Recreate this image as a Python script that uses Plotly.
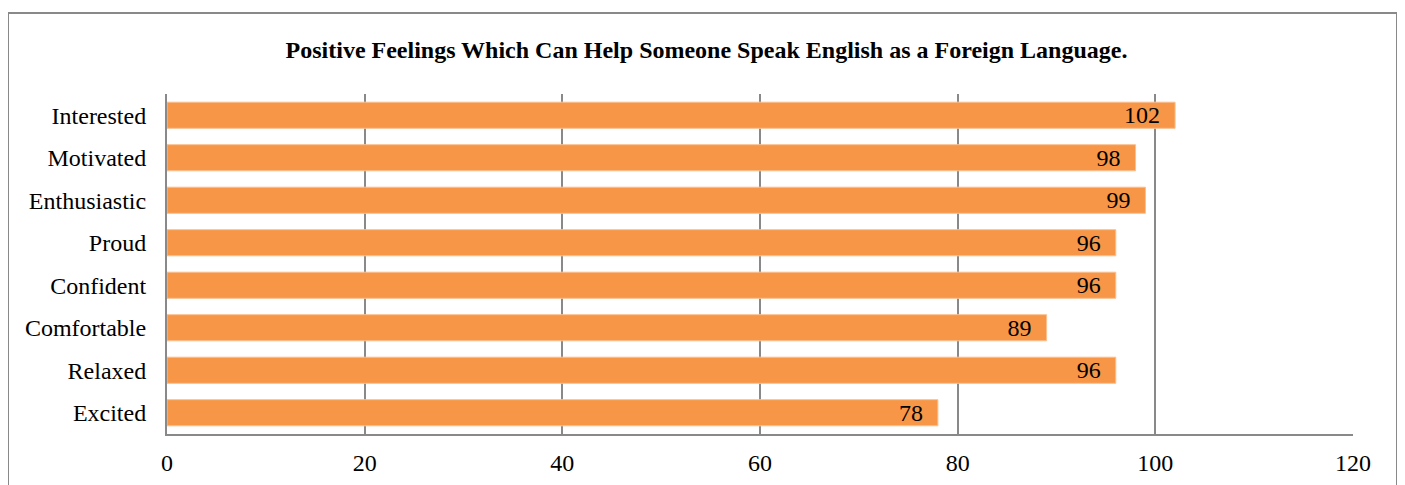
import plotly.graph_objects as go

categories = ["Interested", "Motivated", "Enthusiastic", "Proud", "Confident", "Comfortable", "Relaxed", "Excited"]
values = [102, 98, 99, 96, 96, 89, 96, 78]
x_ticks = [0, 20, 40, 60, 80, 100, 120]
title_text = "Positive Feelings Which Can Help Someone Speak English as a Foreign Language."

# page has an 8px body margin; figure sized to fill the rest of the window
OFF = 8
W, H = 1405 - OFF, 485 - OFF
L, R, T, B = 167 - OFF, 1405 - 1353, 94 - OFF, 485 - 434
pw, ph = W - L - R, H - T - B

def px(x):
    return (x - OFF - L) / pw

def py(y):
    return (H - B - (y - OFF)) / ph

FONT = "Liberation Serif"
GRID = "#898989"

fig = go.Figure()
fig.add_trace(go.Bar(
    y=categories, x=values, orientation="h",
    marker=dict(color="#F79646", line=dict(color="#FAC090", width=1)),
    text=[f"{v}\u00a0\u00a0" for v in values], textposition="inside", insidetextanchor="end",
    textangle=0, constraintext="none",
    textfont=dict(family=FONT, size=24, color="black"),
    cliponaxis=False,
))

fig.update_layout(
    width=W, height=H,
    margin=dict(l=L, r=R, t=T, b=B, autoexpand=False),
    paper_bgcolor="white", plot_bgcolor="white",
    showlegend=False,
    bargap=0.385,
    title=dict(text="<b>" + title_text + "</b>", x=0.5, xref="container", xanchor="center",
               y=1 - (50 - OFF) / H, yanchor="middle",
               font=dict(family=FONT, size=24, color="black")),
    xaxis=dict(range=[0, 120], tickvals=x_ticks, showgrid=True, gridcolor=GRID, gridwidth=2,
               showline=True, linecolor=GRID, linewidth=2, zeroline=False,
               ticks="", ticklabelstandoff=6, automargin=False,
               tickfont=dict(family=FONT, size=24, color="black"), fixedrange=True),
    yaxis=dict(categoryorder="array", categoryarray=categories[::-1],
               showline=True, linecolor=GRID, linewidth=2, showgrid=False,
               ticks="", ticklabelstandoff=14, automargin=False,
               tickfont=dict(family=FONT, size=24, color="black"), fixedrange=True),
    shapes=[dict(type="rect", xref="paper", yref="paper",
                 x0=px(8), x1=px(1397), y0=py(530), y1=py(13),
                 line=dict(color=GRID, width=2), fillcolor="rgba(0,0,0,0)", layer="below")],
)

fig.write_html("out.html")
